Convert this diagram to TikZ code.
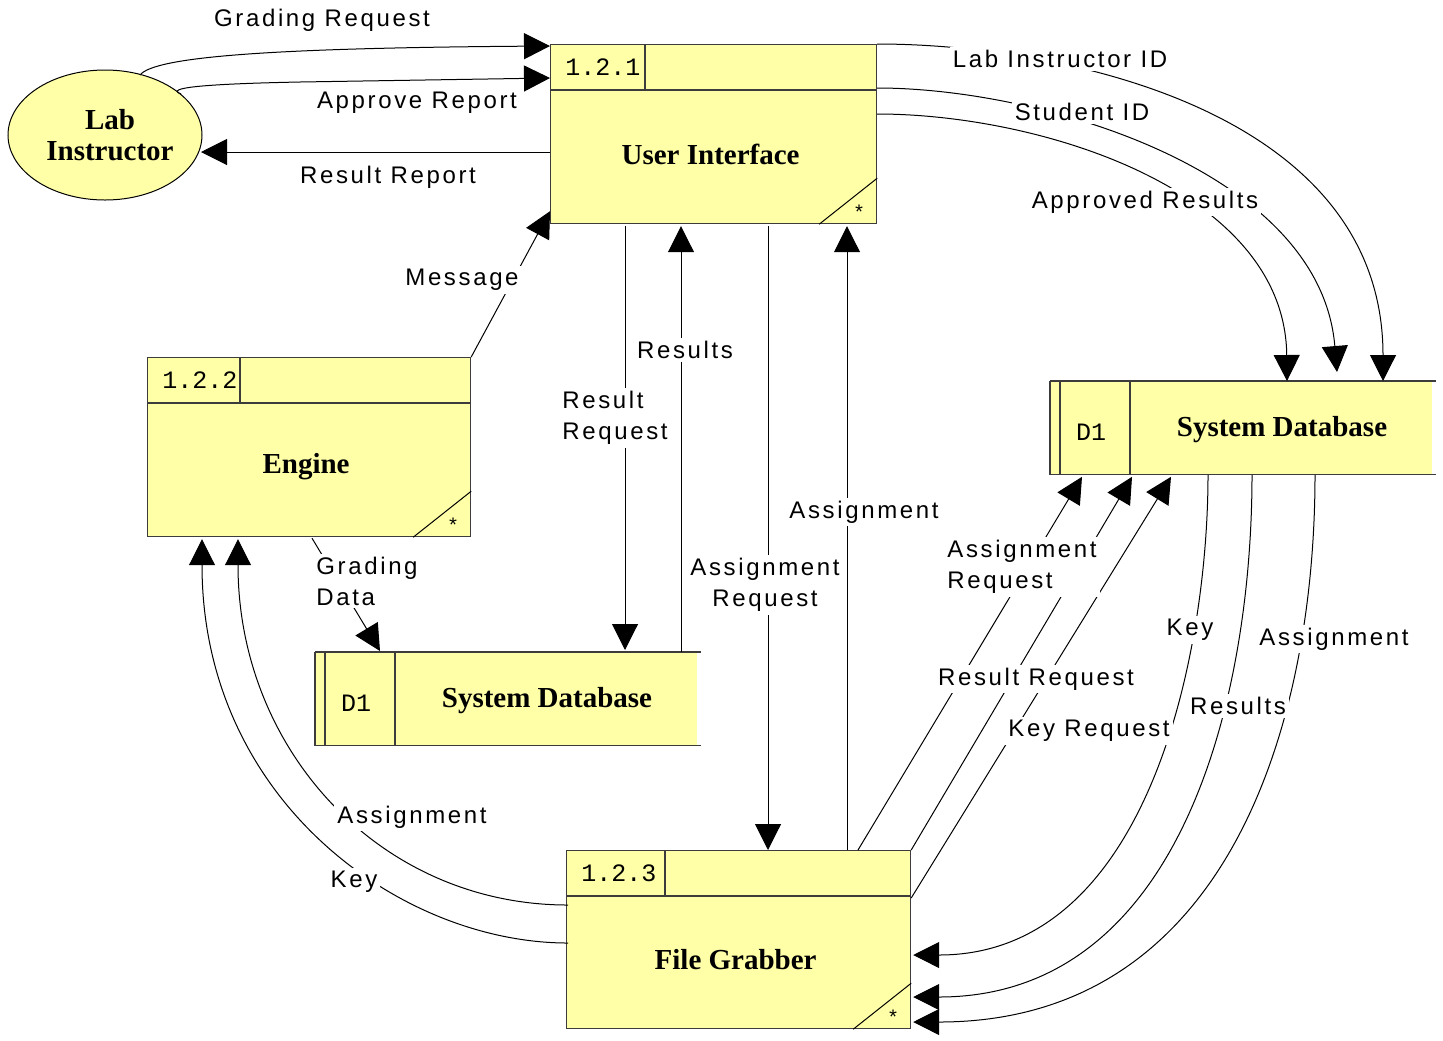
\documentclass[tikz,border=0pt]{standalone}
\usepackage{fontspec}
\setmainfont{Liberation Serif}
\newfontfamily\lblfont{Liberation Sans}[LetterSpace=11]
\newfontfamily\idfont{Liberation Mono}
\usetikzlibrary{calc,arrows.meta,shapes.geometric}
\definecolor{boxfill}{RGB}{255,255,168}
\definecolor{boxline}{RGB}{60,60,60}

\tikzset{
 conn/.style={draw=black, line width=0.5pt},
 flow/.style={conn, -{Triangle[length=13pt,width=13pt]}},
 lbl/.style={font=\lblfont\fontsize{12}{15.5}\selectfont, fill=white, inner sep=1.5pt, align=center},
 proc/.style={draw=boxline, line width=0.6pt, fill=boxfill, inner sep=0pt, anchor=north west},
 ttl/.style={font=\fontsize{14.5}{15.5}\selectfont\bfseries, inner sep=0pt, align=center},
 idtxt/.style={font=\idfont\fontsize{12.5}{14}\selectfont, inner sep=0pt},
 starmark/.style={font=\idfont\fontsize{10}{10}\selectfont, inner sep=0pt},
 sepline/.style={draw=boxline, line width=0.6pt},
}

% #1 name, #2 x, #3 y, #4 w, #5 h, #6 divider offset, #7 id, #8 title
\newcommand{\procbox}[8]{%
  \node[proc, minimum width=#4*0.5pt, minimum height=#5*0.5pt] (#1) at (#2,#3) {};
  \draw[sepline] ($(#1.north west)+(0,46)$) -- ($(#1.north east)+(0,46)$);
  \draw[sepline] ($(#1.north west)+(#6,0)$) -- ($(#1.north west)+(#6,46)$);
  \draw[conn] ($(#1.south east)+(-58,0)$) -- ($(#1.south east)+(0,-46)$);
  \node[idtxt, anchor=west] (#1-id) at ($(#1.north west)+(15,23)$) {#7};
  \node[starmark] (#1-star) at ($(#1.south east)+(-18,-12)$) {*};
  \node[ttl] (#1-title) at ($(#1.center)+(-3,20)$) {#8};
}
% #1 name, #2 x, #3 y, #4 title
\newcommand{\dstore}[4]{%
  \node[inner sep=0pt, minimum width=191pt, minimum height=46.5pt, anchor=north west, fill=boxfill] (#1) at (#2,#3) {};
  \draw[sepline] (#1.north west) -- ($(#1.north east)+(3,0)$);
  \draw[sepline] (#1.south west) -- ($(#1.south east)+(3,0)$);
  \draw[sepline] (#1.north west) -- (#1.south west);
  \draw[sepline] ($(#1.north west)+(10,0)$) -- ($(#1.south west)+(10,0)$);
  \draw[sepline] ($(#1.north west)+(80,0)$) -- ($(#1.south west)+(80,0)$);
  \node[idtxt] (#1-id) at ($(#1.west)+(41,4)$) {D1};
  \node[ttl] (#1-title) at ($(#1.west)+(232,2)$) {#4};
}

\begin{document}
\begin{tikzpicture}[x=0.5pt,y=-0.5pt]
\fill[white] (0,0) rectangle (1443,1040);
\useasboundingbox (0,0) rectangle (1443,1040);

% ---------- nodes ----------
\node[ellipse, draw=black, line width=0.5pt, fill=boxfill, minimum width=97pt, minimum height=65pt, inner sep=0pt] (li) at (105,135) {};
\node[ttl] (li-title) at (110,135) {Lab\\Instructor};
\procbox{ui}{550}{44}{326}{179}{95}{1.2.1}{User Interface}
\procbox{eng}{147}{357}{323}{179}{93}{1.2.2}{Engine}
\procbox{fg}{566}{850}{344}{178}{99}{1.2.3}{File Grabber}
\dstore{sdl}{315}{652}{System Database}
\dstore{sdr}{1050}{381}{System Database}

% ---------- connectors ----------
% Lab Instructor <-> User Interface
\draw[flow] ($(li.center)+(35,-60)$) .. controls (155,56) and (280,48) .. ($(ui.north west)+(0,2)$);
\draw[flow] ($(li.center)+(76,-41)$) .. controls (165,88) and (200,84) .. (300,82) -- ($(ui.north west)+(0,34)$);
\draw[flow] ($(ui.north west)+(0,108)$) -- ($(li.center)+(96,17)$);

% User Interface -> right System Database
\draw[flow] (ui.north east) .. controls (1060,44) and (1383,110) .. ($(sdr.north west)+(333,0)$);
\draw[flow] ($(ui.north east)+(0,44)$) .. controls (1040,88) and (1320,170) .. ($(sdr.north west)+(287,-9)$);
\draw[flow] ($(ui.north east)+(0,70)$) .. controls (1040,114) and (1285,190) .. ($(sdr.north west)+(237,0)$);

% Engine -> User Interface
\draw[flow] (eng.north east) -- ($(ui.south west)+(0,-13)$);

% User Interface <-> lower System Database
\draw[flow] ($(ui.south west)+(75,2)$) -- ($(sdl.north west)+(310,-2)$);
\draw[flow] ($(sdl.north west)+(366,0)$) -- ($(ui.south west)+(131,2)$);

% User Interface <-> File Grabber
\draw[flow] ($(ui.south west)+(218,2)$) -- ($(fg.north west)+(202,0)$);
\draw[flow] ($(fg.north west)+(281,0)$) -- ($(ui.south west)+(297,2)$);

% Engine -> lower System Database
\draw[flow] ($(eng.south west)+(165,1)$) -- ($(sdl.north west)+(65,-1)$);

% File Grabber -> Engine
\draw[flow] ($(fg.north west)+(2,55)$) .. controls (380,905) and (238,750) .. ($(eng.south west)+(91,2)$);
\draw[flow] ($(fg.north west)+(2,93)$) .. controls (400,943) and (202,800) .. ($(eng.south west)+(55,2)$);

% File Grabber -> right System Database
\draw[flow] ($(fg.north west)+(292,0)$) -- ($(sdr.south west)+(32,2)$);
\draw[flow] (fg.north east) -- ($(sdr.south west)+(82,2)$);
\draw[flow] ($(fg.north east)+(0,48)$) -- ($(sdr.south west)+(121,2)$);

% right System Database -> File Grabber
\draw[flow] ($(sdr.south west)+(158,0)$) .. controls (1208,650) and (1150,955) .. ($(fg.north east)+(2,105)$);
\draw[flow] ($(sdr.south west)+(202,0)$) .. controls (1252,700) and (1180,997) .. ($(fg.north east)+(2,147)$);
\draw[flow] ($(sdr.south west)+(265,0)$) .. controls (1315,720) and (1230,1022) .. ($(fg.north east)+(2,172)$);

% ---------- labels ----------
\node[lbl] (l-gr) at (322,20) {Grading Request};
\node[lbl] (l-ar) at (417,103) {Approve Report};
\node[lbl] (l-rr) at (388,177) {Result Report};
\node[lbl] (l-lid) at (1060,59) {Lab Instructor ID};
\node[lbl] (l-sid) at (1082,112) {Student ID};
\node[lbl] (l-apr) at (1145,202) {Approved Results};
\node[lbl] (l-msg) at (462,280) {Message};
\node[lbl, anchor=west, align=left] (l-resreq) at (559,418) {Result\\Request};
\node[lbl] (l-res) at (685,350) {Results};
\node[lbl] (l-asreq) at (765,585) {Assignment\\Request};
\node[lbl] (l-as) at (864,512) {Assignment};
\node[lbl, anchor=west, align=left] (l-gd) at (313,581) {Grading\\Data};
\node[lbl] (l-las) at (412,817) {Assignment};
\node[lbl] (l-lkey) at (354,882) {Key};
\node[lbl, anchor=west, align=left] (l-rasreq) at (944,567) {Assignment\\Request};
\node[lbl] (l-rresreq) at (1036,679) {Result Request};
\node[lbl] (l-rkeyreq) at (1089,731) {Key Request};
\node[lbl] (l-rkey) at (1190,630) {Key};
\node[lbl] (l-rres) at (1238,706) {Results};
\node[lbl] (l-ras) at (1334,639) {Assignment};
\end{tikzpicture}
\end{document}
